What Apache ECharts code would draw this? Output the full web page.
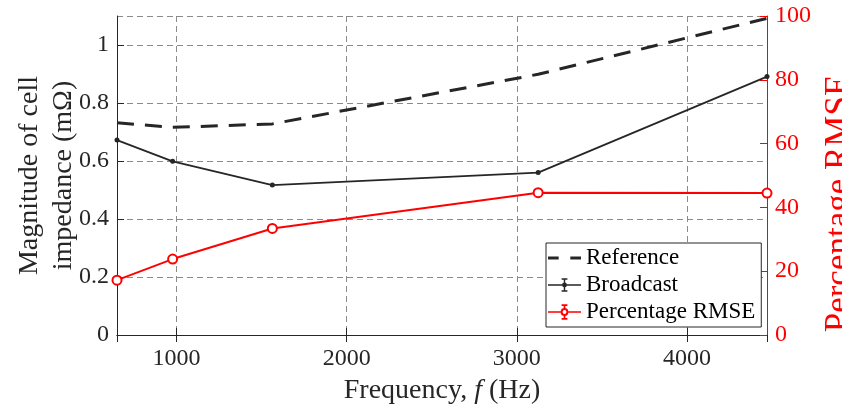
<!DOCTYPE html>
<html lang="en">

<head>
  <meta charset="UTF-8" />
  <title>Cell impedance</title>
  <script src="https://cdn.jsdelivr.net/npm/echarts@6/dist/echarts.min.js"></script>
</head>

<body style="margin:0">
  <div id="main" style="width: 842px;height:405px;"></div>
  <script type="text/javascript">
    // data
    var freq = [650, 977, 1563, 3125, 4470]
    var reference = [0.732, 0.716, 0.728, 0.899, 1.092]
    var broadcast = [0.672, 0.599, 0.517, 0.560, 0.891]
    var rmse = [17.2, 23.8, 33.4, 44.6, 44.5]
    var xTicks = [1000, 2000, 3000, 4000]

    var FONT = 'Liberation Serif'
    var INK = '#262626'

    function pairs(ys) {
      return freq.map(function (f, i) { return [f, ys[i]] })
    }

    // legend icons (34 x 20 box, corner moves fix the bounding box)
    var box = 'M0,0M34,20'
    var dashIcon = 'path://' + box + 'M0,8.5h11v3h-11zM23,8.5h11v3h-11z'
    var barIcon = 'path://' + box + 'M0,9.25h34v1.5h-34zM16.25,3h1.5v14h-1.5zM14,3h6v1.5h-6zM14,15.5h6v1.5h-6z' +
      'M14.5,10a2.5,2.5 0 1,1 5,0a2.5,2.5 0 1,1 -5,0z'
    var ringIcon = 'path://' + box + 'M0,9.1h13v1.8h-13zM21,9.1h13v1.8h-13zM16.1,2h1.8v4h-1.8zM16.1,14h1.8v4h-1.8z' +
      'M14,2h6v1.8h-6zM14,16.2h6v1.8h-6z' +
      'M13,10a4,4 0 1,1 8,0a4,4 0 1,1 -8,0zM15,10a2,2 0 1,0 4,0a2,2 0 1,0 -4,0z'

    var myChart = echarts.init(document.getElementById('main'))
    var gridLine = { show: true, lineStyle: { color: '#8a8a8a', type: [6, 4], width: 1 } }

    var option = {
      animation: false,
      backgroundColor: '#fff',
      grid: { left: 117, right: 75, top: 16, bottom: 70, outerBoundsMode: 'none', containLabel: false },
      legend: {
        orient: 'vertical',
        left: 546,
        top: 243,
        padding: [3, 6, 3, 2],
        itemWidth: 33,
        itemHeight: 20,
        itemGap: 3,
        selectedMode: false,
        backgroundColor: '#fff',
        borderColor: INK,
        borderWidth: 1,
        textStyle: { fontFamily: FONT, fontSize: 23, color: '#000', lineHeight: 24 },
        data: [
          { name: 'Reference', icon: dashIcon, itemStyle: { color: INK, borderWidth: 0 } },
          { name: 'Broadcast', icon: barIcon, itemStyle: { color: INK, borderWidth: 0 } },
          { name: 'Percentage RMSE', icon: ringIcon, itemStyle: { color: '#ff0000', borderWidth: 0 } }
        ]
      },
      xAxis: [{
        type: 'value',
        min: 650,
        max: 4470,
        splitNumber: 4,
        name: 'Frequency, {i|f} (Hz)',
        nameLocation: 'middle',
        nameGap: 42,
        nameMoveOverlap: false,
        nameTextStyle: {
          fontFamily: FONT, fontSize: 28, color: INK,
          rich: { i: { fontFamily: FONT, fontSize: 28, fontStyle: 'italic', color: INK } }
        },
        axisLine: { lineStyle: { color: INK, width: 1 } },
        axisTick: { inside: true, length: 7, lineStyle: { color: INK } },
        axisLabel: {
          fontFamily: FONT, fontSize: 24, color: INK, margin: 12,
          showMinLabel: false, showMaxLabel: false,
          formatter: function (v) { return xTicks.indexOf(v) >= 0 ? String(v) : '' }
        },
        splitLine: gridLine
      }, {
        type: 'value',
        position: 'top',
        min: 650,
        max: 4470,
        splitNumber: 4,
        axisLine: { show: true, lineStyle: { color: INK, width: 1 } },
        axisTick: { show: true, inside: true, length: 7, lineStyle: { color: INK } },
        axisLabel: { show: false },
        splitLine: { show: false }
      }],
      yAxis: [{
        type: 'value',
        min: 0,
        max: 1.1,
        interval: 0.2,
        name: 'Magnitude of cell\nimpedance (mΩ)',
        nameLocation: 'middle',
        nameGap: 36,
        nameMoveOverlap: false,
        nameTextStyle: { fontFamily: FONT, fontSize: 28, color: INK, lineHeight: 34 },
        axisLine: { show: true, lineStyle: { color: INK, width: 1 } },
        axisTick: { show: true, inside: true, length: 7, lineStyle: { color: INK } },
        axisLabel: { fontFamily: FONT, fontSize: 24, color: INK, margin: 8, showMaxLabel: false },
        splitLine: gridLine
      }, {
        type: 'value',
        position: 'right',
        min: 0,
        max: 100,
        interval: 20,
        name: 'Percentage RMSE',
        nameLocation: 'middle',
        nameGap: 55,
        nameMoveOverlap: false,
        nameTextStyle: { fontFamily: FONT, fontSize: 35, color: '#ff0000', padding: [0, 56, 0, 0] },
        axisLine: { show: true, lineStyle: { color: '#ff0000', width: 1 } },
        axisTick: { show: true, inside: true, length: 7, lineStyle: { color: '#ff0000' } },
        axisLabel: { fontFamily: FONT, fontSize: 24, color: '#ff0000', margin: 8 },
        splitLine: { show: false }
      }],
      series: [{
        name: 'Reference',
        type: 'line',
        data: pairs(reference),
        showSymbol: false,
        symbol: 'none',
        lineStyle: { color: INK, width: 3, type: [17, 11] },
        itemStyle: { color: INK },
        z: 3
      }, {
        name: 'Broadcast',
        type: 'line',
        data: pairs(broadcast),
        symbol: 'circle',
        symbolSize: 5,
        lineStyle: { color: INK, width: 1.8 },
        itemStyle: { color: INK },
        z: 3
      }, {
        name: 'Percentage RMSE',
        type: 'line',
        yAxisIndex: 1,
        data: pairs(rmse),
        symbol: 'emptyCircle',
        symbolSize: 9,
        lineStyle: { color: '#ff0000', width: 2 },
        itemStyle: { color: '#ff0000', borderWidth: 1.6 },
        z: 4
      }]
    }
    myChart.setOption(option)
  </script>
</body>

</html>
